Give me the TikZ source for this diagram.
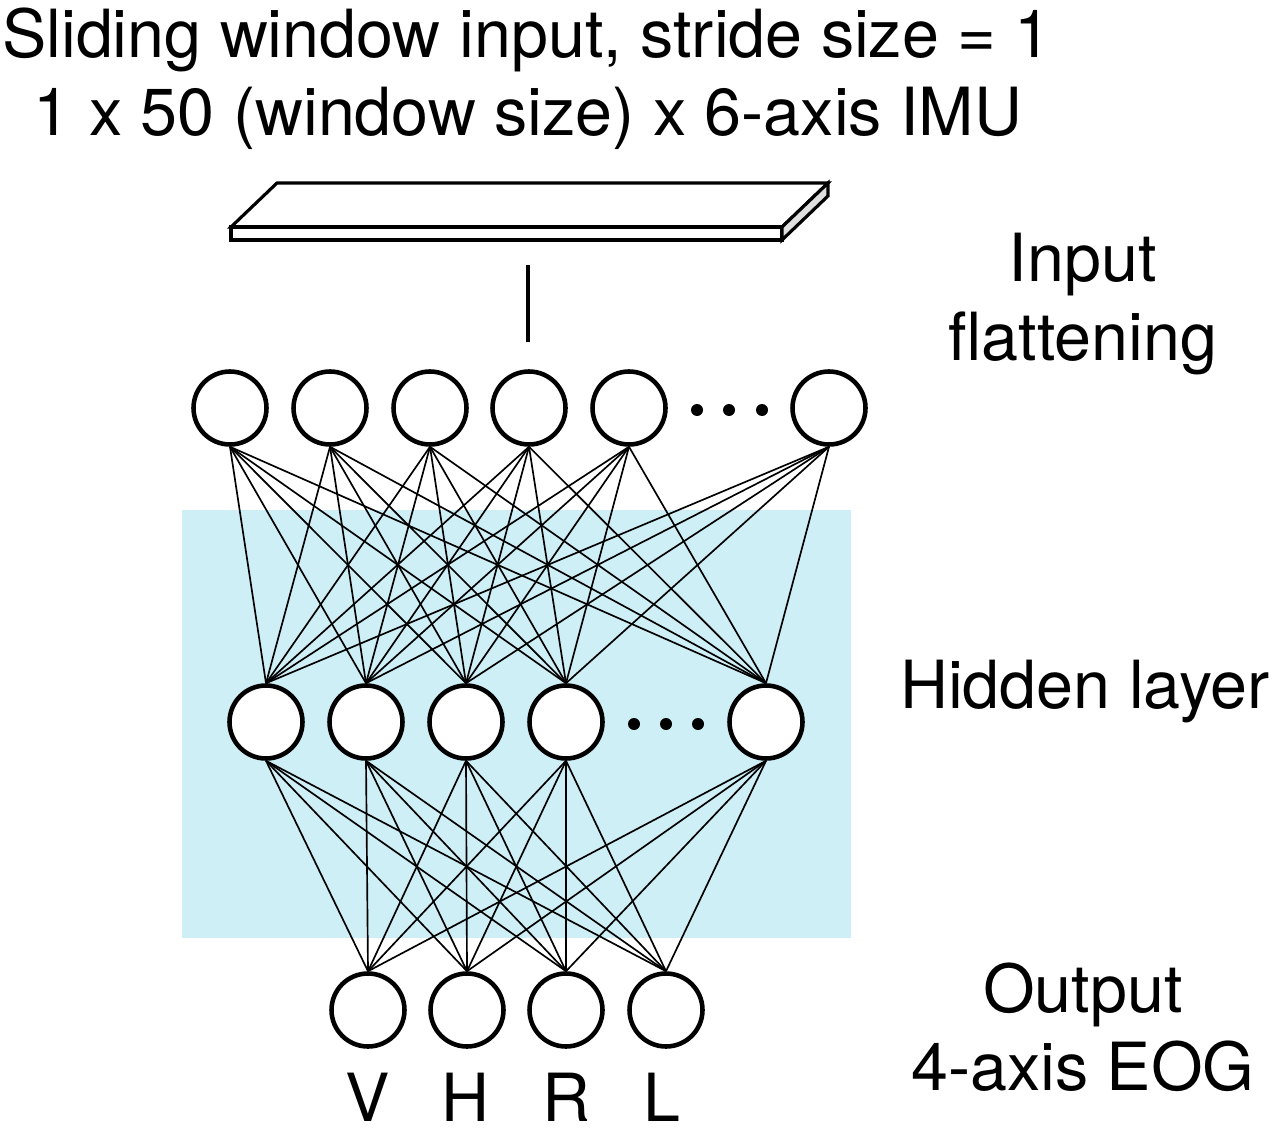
\documentclass[tikz,border=0pt]{standalone}
\usepackage{fontspec}
\setmainfont{TeX Gyre Heros}
\definecolor{hidbg}{RGB}{206,239,246}
\begin{document}
\begin{tikzpicture}[x=0.02cm,y=-0.02cm,
		neuron/.style={circle,draw,line width=2.6pt,fill=white,minimum size=1.46cm,inner sep=0pt},
		link/.style={line width=0.95pt},
		slab/.style={line width=1.8pt,line join=miter},
		lbl/.style={font=\fontsize{37.8}{45}\selectfont,anchor=base,inner sep=0pt},
		dot/.style={circle,fill,inner sep=0pt,minimum size=0.24cm}]
		
		\useasboundingbox (0,0) rectangle (1277,1128);
		
		\fill[hidbg] (182,510) rectangle (851,938);
		
		\node[lbl] (title1) at (527,58) {Sliding window input, stride size = 1};
		\node[lbl] (title2) at (528,136) {1 x 50 (window size) x 6-axis IMU};
		
		\draw[slab,fill=white] (231,227) -- (277,183) -- (828,183) -- (782,227) -- cycle;
		\draw[slab,fill=white] (231,227) rectangle (782,240);
		\draw[slab,fill=gray!25] (782,227) -- (828,183) -- (828,196) -- (782,240) -- cycle;
		
		\coordinate (flat1) at (528,265);
		\coordinate (flat2) at (528,342);
		\draw[line width=2pt] (flat1) -- (flat2);
		
		\node[lbl] (inlbl1) at (1083,282) {Input};
		\node[lbl] (inlbl2) at (1083,360) {flattening};
		\node[lbl] (hidlbl) at (1085,708) {Hidden layer};
		\node[lbl] (outlbl1) at (1083,1012) {Output};
		\node[lbl] (outlbl2) at (1083,1090) {4-axis EOG};
		
		\node[neuron] (in1) at (230,408) {};
		\node[neuron] (in2) at (330,408) {};
		\node[neuron] (in3) at (430,408) {};
		\node[neuron] (in4) at (529,408) {};
		\node[neuron] (in5) at (629,408) {};
		\node[neuron] (in6) at (829,408) {};
		\node[dot] (indot1) at (697,410) {};
		\node[dot] (indot2) at (729,410) {};
		\node[dot] (indot3) at (762,410) {};
		
		\node[neuron] (h1) at (266,722) {};
		\node[neuron] (h2) at (366,722) {};
		\node[neuron] (h3) at (466,722) {};
		\node[neuron] (h4) at (566,722) {};
		\node[neuron] (h5) at (766,722) {};
		\node[dot] (hdot1) at (634,724) {};
		\node[dot] (hdot2) at (666,724) {};
		\node[dot] (hdot3) at (698,724) {};
		
		\node[neuron] (o1) at (368,1010) {};
		\node[neuron] (o2) at (467,1010) {};
		\node[neuron] (o3) at (566,1010) {};
		\node[neuron] (o4) at (666,1010) {};
		
		\node[lbl] (v) at (368,1121) {V};
		\node[lbl] (h) at (465,1121) {H};
		\node[lbl] (r) at (566,1121) {R};
		\node[lbl] (l) at (662,1121) {L};
		
		\foreach \i in {1,...,6}
			\foreach \j in {1,...,5}
				\draw[link] (in\i.south) -- (h\j.north);
		\foreach \j in {1,...,5}
			\foreach \k in {1,...,4}
				\draw[link] (h\j.south) -- (o\k.north);
	\end{tikzpicture}
\end{document}
